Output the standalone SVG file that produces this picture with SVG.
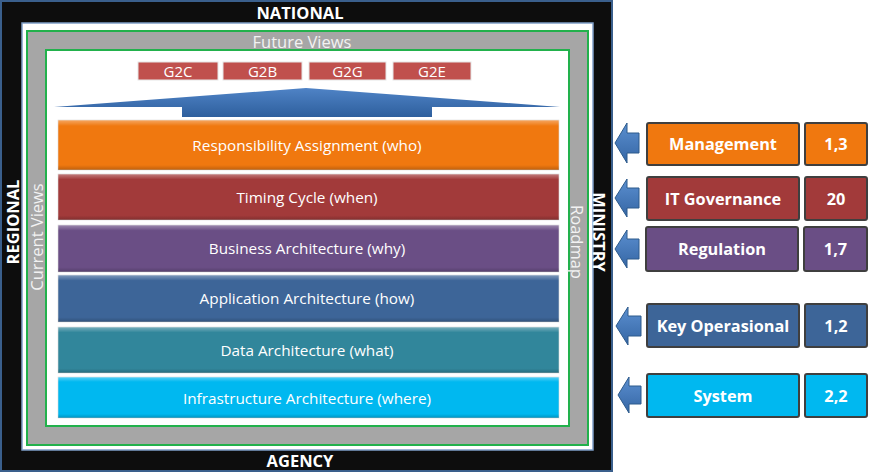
<svg xmlns="http://www.w3.org/2000/svg" width="869" height="472" viewBox="0 0 869 472">
<style>
.lbl{font-family:"Open Sans","Liberation Sans",sans-serif;fill:#fff;text-anchor:middle;dominant-baseline:central}
.layer{font-size:15.3px}
.g2{font-size:15px}
.side{font-weight:bold;font-size:16.3px;font-family:"Open Sans","Liberation Sans",sans-serif;fill:#fff;text-anchor:middle;dominant-baseline:central}
.frame{font-weight:bold;font-size:16.5px;font-family:"Open Sans","Liberation Sans",sans-serif;fill:#fff;text-anchor:middle;dominant-baseline:central}
.gray{font-size:16.5px;fill:#f2f2f2}
.rbox{stroke:#3f3f3f;stroke-width:2}
.arrow{fill:url(#arrowGrad);stroke:#2c5a8c;stroke-width:1}
.lay{stroke:#d9d9d9;stroke-width:0.6}
</style>
<defs>
<linearGradient id="arrowGrad" x1="0" y1="0" x2="0" y2="1">
<stop offset="0" stop-color="#5b8fd0"/><stop offset="1" stop-color="#3566a4"/>
</linearGradient>
<linearGradient id="bigArrow" x1="0" y1="0" x2="0" y2="1">
<stop offset="0" stop-color="#4f83c6"/><stop offset="1" stop-color="#2e5f9d"/>
</linearGradient>
<linearGradient id="hl" x1="0" y1="0" x2="0" y2="1">
<stop offset="0" stop-color="#fff" stop-opacity="0.35"/><stop offset="0.12" stop-color="#fff" stop-opacity="0"/><stop offset="0.9" stop-color="#000" stop-opacity="0"/><stop offset="1" stop-color="#000" stop-opacity="0.2"/>
</linearGradient>
</defs>
<rect width="869" height="472" fill="#ffffff"/>
<!-- frames -->
<g id="frame">
<rect x="1" y="1" width="611" height="470" fill="#0d0d0d" stroke="#3a5f8c" stroke-width="2"/>
<rect x="22" y="23" width="571" height="427" fill="#ffffff" stroke="#7f9ec8" stroke-width="1.5"/>
<rect x="27" y="31" width="561" height="414" fill="#a6a6a6" stroke="#22b14c" stroke-width="2"/>
<rect x="46" y="50" width="523" height="376" fill="#ffffff" stroke="#22b14c" stroke-width="2"/>
<text class="frame" x="300" y="12.5">NATIONAL</text>
<text class="frame" x="300" y="460.5">AGENCY</text>
<text class="frame" transform="translate(12,222) rotate(-90)">REGIONAL</text>
<text class="frame" transform="translate(599,232) rotate(90)">MINISTRY</text>
<text class="lbl gray" x="302" y="41">Future Views</text>
<text class="lbl gray" transform="translate(36,237) rotate(-90)">Current Views</text>
<text class="lbl gray" transform="translate(577,242) rotate(90)">Roadmap</text>
</g>
<!-- G2 boxes -->
<g id="g2c"><rect x="138" y="62" width="80" height="18" fill="#c0504d" stroke="#e6e6e6" stroke-width="1"/><text class="lbl g2" x="178" y="71">G2C</text></g>
<g id="g2b"><rect x="223" y="62" width="79" height="18" fill="#c0504d" stroke="#e6e6e6" stroke-width="1"/><text class="lbl g2" x="262.5" y="71">G2B</text></g>
<g id="g2g"><rect x="309" y="62" width="77" height="18" fill="#c0504d" stroke="#e6e6e6" stroke-width="1"/><text class="lbl g2" x="347.5" y="71">G2G</text></g>
<g id="g2e"><rect x="393" y="62" width="78" height="18" fill="#c0504d" stroke="#e6e6e6" stroke-width="1"/><text class="lbl g2" x="432" y="71">G2E</text></g>
<!-- big arrow -->
<g id="bigarrow"><polygon points="54,107 306,88 560,107 432,107 432,117 182,117 182,107" fill="url(#bigArrow)"/></g>
<!-- layers -->
<g id="l1"><rect class="lay" x="58" y="120" width="501" height="50" fill="#f0780f"/><rect x="58" y="120" width="501" height="50" fill="url(#hl)"/><text class="lbl layer" x="307" y="145">Responsibility Assignment (who)</text></g>
<g id="l2"><rect class="lay" x="58" y="174" width="501" height="46" fill="#a23a3a"/><rect x="58" y="174" width="501" height="46" fill="url(#hl)"/><text class="lbl layer" x="307" y="197">Timing Cycle (when)</text></g>
<g id="l3"><rect class="lay" x="58" y="225" width="501" height="47" fill="#6a4e85"/><rect x="58" y="225" width="501" height="47" fill="url(#hl)"/><text class="lbl layer" x="307" y="248">Business Architecture (why)</text></g>
<g id="l4"><rect class="lay" x="58" y="275" width="501" height="47" fill="#3d6598"/><rect x="58" y="275" width="501" height="47" fill="url(#hl)"/><text class="lbl layer" x="307" y="298">Application Architecture (how)</text></g>
<g id="l5"><rect class="lay" x="58" y="327" width="501" height="46" fill="#31869b"/><rect x="58" y="327" width="501" height="46" fill="url(#hl)"/><text class="lbl layer" x="307" y="350">Data Architecture (what)</text></g>
<g id="l6"><rect class="lay" x="58" y="377" width="501" height="41" fill="#00b8f0"/><rect x="58" y="377" width="501" height="41" fill="url(#hl)"/><text class="lbl layer" x="307" y="398">Infrastructure Architecture (where)</text></g>
<!-- connectors (arrows) -->
<g id="connectors">
<polygon class="arrow" points="615,143 627,123 627,133 639,133 639,153 627,153 627,163"/>
<polygon class="arrow" points="615,198 627,179 627,188 639,188 639,208 627,208 627,217"/>
<polygon class="arrow" points="615,249 627,230 627,239 639,239 639,259 627,259 627,268"/>
<polygon class="arrow" points="616,326 628,307 628,316 641,316 641,336 628,336 628,345"/>
<polygon class="arrow" points="618,395 629,377 629,386 641,386 641,404 629,404 629,413"/>
</g>
<!-- right boxes -->
<g id="management"><rect class="rbox" x="647" y="123" width="152" height="42" rx="2" fill="#f0780f"/><text class="side" x="723" y="144">Management</text></g>
<g id="management-v"><rect class="rbox" x="805" y="123" width="62" height="42" rx="2" fill="#f0780f"/><text class="side" x="836" y="144">1,3</text></g>
<g id="itgov"><rect class="rbox" x="647" y="177" width="152" height="43" rx="2" fill="#a23a3a"/><text class="side" x="723" y="198.5">IT Governance</text></g>
<g id="itgov-v"><rect class="rbox" x="805" y="177" width="62" height="43" rx="2" fill="#a23a3a"/><text class="side" x="836" y="198.5">20</text></g>
<g id="regulation"><rect class="rbox" x="646" y="227" width="152" height="44" rx="2" fill="#6a4e85"/><text class="side" x="722" y="249">Regulation</text></g>
<g id="regulation-v"><rect class="rbox" x="804" y="227" width="63" height="44" rx="2" fill="#6a4e85"/><text class="side" x="835.5" y="249">1,7</text></g>
<g id="keyop"><rect class="rbox" x="647" y="304" width="152" height="43" rx="2" fill="#3d6598"/><text class="side" x="723" y="325.5">Key Operasional</text></g>
<g id="keyop-v"><rect class="rbox" x="805" y="304" width="62" height="43" rx="2" fill="#3d6598"/><text class="side" x="836" y="325.5">1,2</text></g>
<g id="system"><rect class="rbox" x="647" y="374" width="152" height="43" rx="2" fill="#00b8f0"/><text class="side" x="723" y="395.5">System</text></g>
<g id="system-v"><rect class="rbox" x="805" y="374" width="62" height="43" rx="2" fill="#00b8f0"/><text class="side" x="836" y="395.5">2,2</text></g>
</svg>
